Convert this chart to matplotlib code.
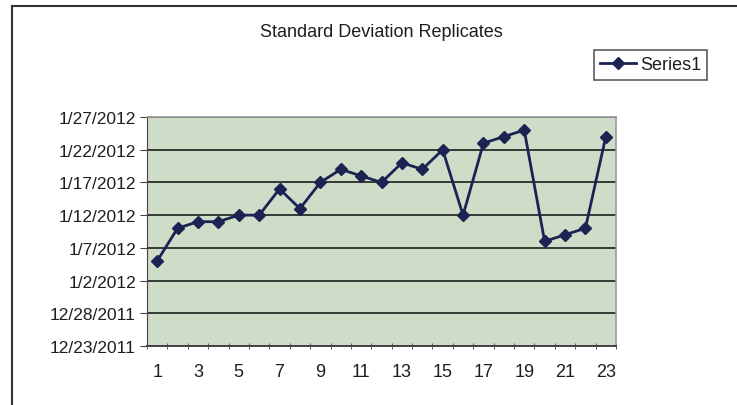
import datetime as dt
import matplotlib
matplotlib.use('Agg')
import matplotlib.pyplot as plt
import matplotlib.dates as mdates
from matplotlib.lines import Line2D

plt.rcParams['font.family'] = ['Liberation Sans', 'DejaVu Sans']

# data
replicates = list(range(1, 24))
dates = ['2012-01-05', '2012-01-10', '2012-01-11', '2012-01-11', '2012-01-12',
         '2012-01-12', '2012-01-16', '2012-01-13', '2012-01-17', '2012-01-19',
         '2012-01-18', '2012-01-17', '2012-01-20', '2012-01-19', '2012-01-22',
         '2012-01-12', '2012-01-23', '2012-01-24', '2012-01-25', '2012-01-08',
         '2012-01-09', '2012-01-10', '2012-01-24']
y_start = '2011-12-23'
y_end = '2012-01-27'
y_step_days = 5
series_name = 'Series1'
title = 'Standard Deviation Replicates'

vals = [mdates.date2num(dt.date.fromisoformat(d)) for d in dates]
lo = mdates.date2num(dt.date.fromisoformat(y_start))
hi = mdates.date2num(dt.date.fromisoformat(y_end))

fig = plt.figure(figsize=(7.37, 4.06), dpi=100)
ax = fig.add_axes([147 / 737, 59 / 406, 469 / 737, 229 / 406])
ax.set_facecolor('#cfdcc8')

txt_col = '#1e1e1e'
line_col = '#1b2352'
ax.plot(replicates, vals, color=line_col, lw=2, marker='D', ms=6,
        markerfacecolor=line_col, markeredgecolor=line_col, zorder=3)

ax.set_xlim(0.5, 23.5)
ax.set_ylim(lo, hi)

yt = [lo + i * y_step_days for i in range(int((hi - lo) / y_step_days) + 1)]
ax.set_yticks(yt)
labels = []
for t in yt:
    d = mdates.num2date(t)
    labels.append(f'{d.month}/{d.day}/{d.year}')
ax.set_yticklabels(labels, fontsize=12.5, color=txt_col)
ax.yaxis.grid(True, color='#353a35', lw=1.4)
ax.set_axisbelow(True)

ax.set_xticks(replicates[::2])
ax.set_xticklabels([str(r) for r in replicates[::2]], fontsize=13, color=txt_col)
ax.set_xticks([r + 0.5 for r in [0] + replicates], minor=True)
ax.tick_params(axis='x', which='major', length=0, pad=12)
ax.tick_params(axis='x', which='minor', length=4, direction='inout', color='#444444')
ax.tick_params(axis='y', length=5, direction='out', color='#444444', pad=3)

for side in ['top', 'right']:
    ax.spines[side].set_color('#9a9a9a')
    ax.spines[side].set_linewidth(1.2)
ax.spines['left'].set_color('#444444')
ax.spines['bottom'].set_color('#444444')
ax.spines['bottom'].set_linewidth(1.4)

fig.text(0.518, 0.921, title, ha='center', va='center', fontsize=13, color=txt_col)

handle = Line2D([], [], color=line_col, lw=2, marker='D', ms=6)
leg = fig.legend([handle], [series_name], loc='center',
                 bbox_to_anchor=(650.5 / 737, 1 - 66 / 406), fontsize=13,
                 frameon=True, fancybox=False, edgecolor='#333333',
                 borderpad=0.35, handlelength=2.0, handletextpad=0.2,
                 borderaxespad=0)
leg.get_frame().set_linewidth(1.2)
for t in leg.get_texts():
    t.set_color(txt_col)

# outer chart border (left and top visible)
fig.add_artist(Line2D([12 / 737, 12 / 737], [0, 1 - 7 / 406], transform=fig.transFigure,
                      color='#333333', lw=1.5))
fig.add_artist(Line2D([12 / 737, 1], [1 - 7 / 406, 1 - 7 / 406], transform=fig.transFigure,
                      color='#333333', lw=1.5))

fig.savefig('out.png', dpi=100)
